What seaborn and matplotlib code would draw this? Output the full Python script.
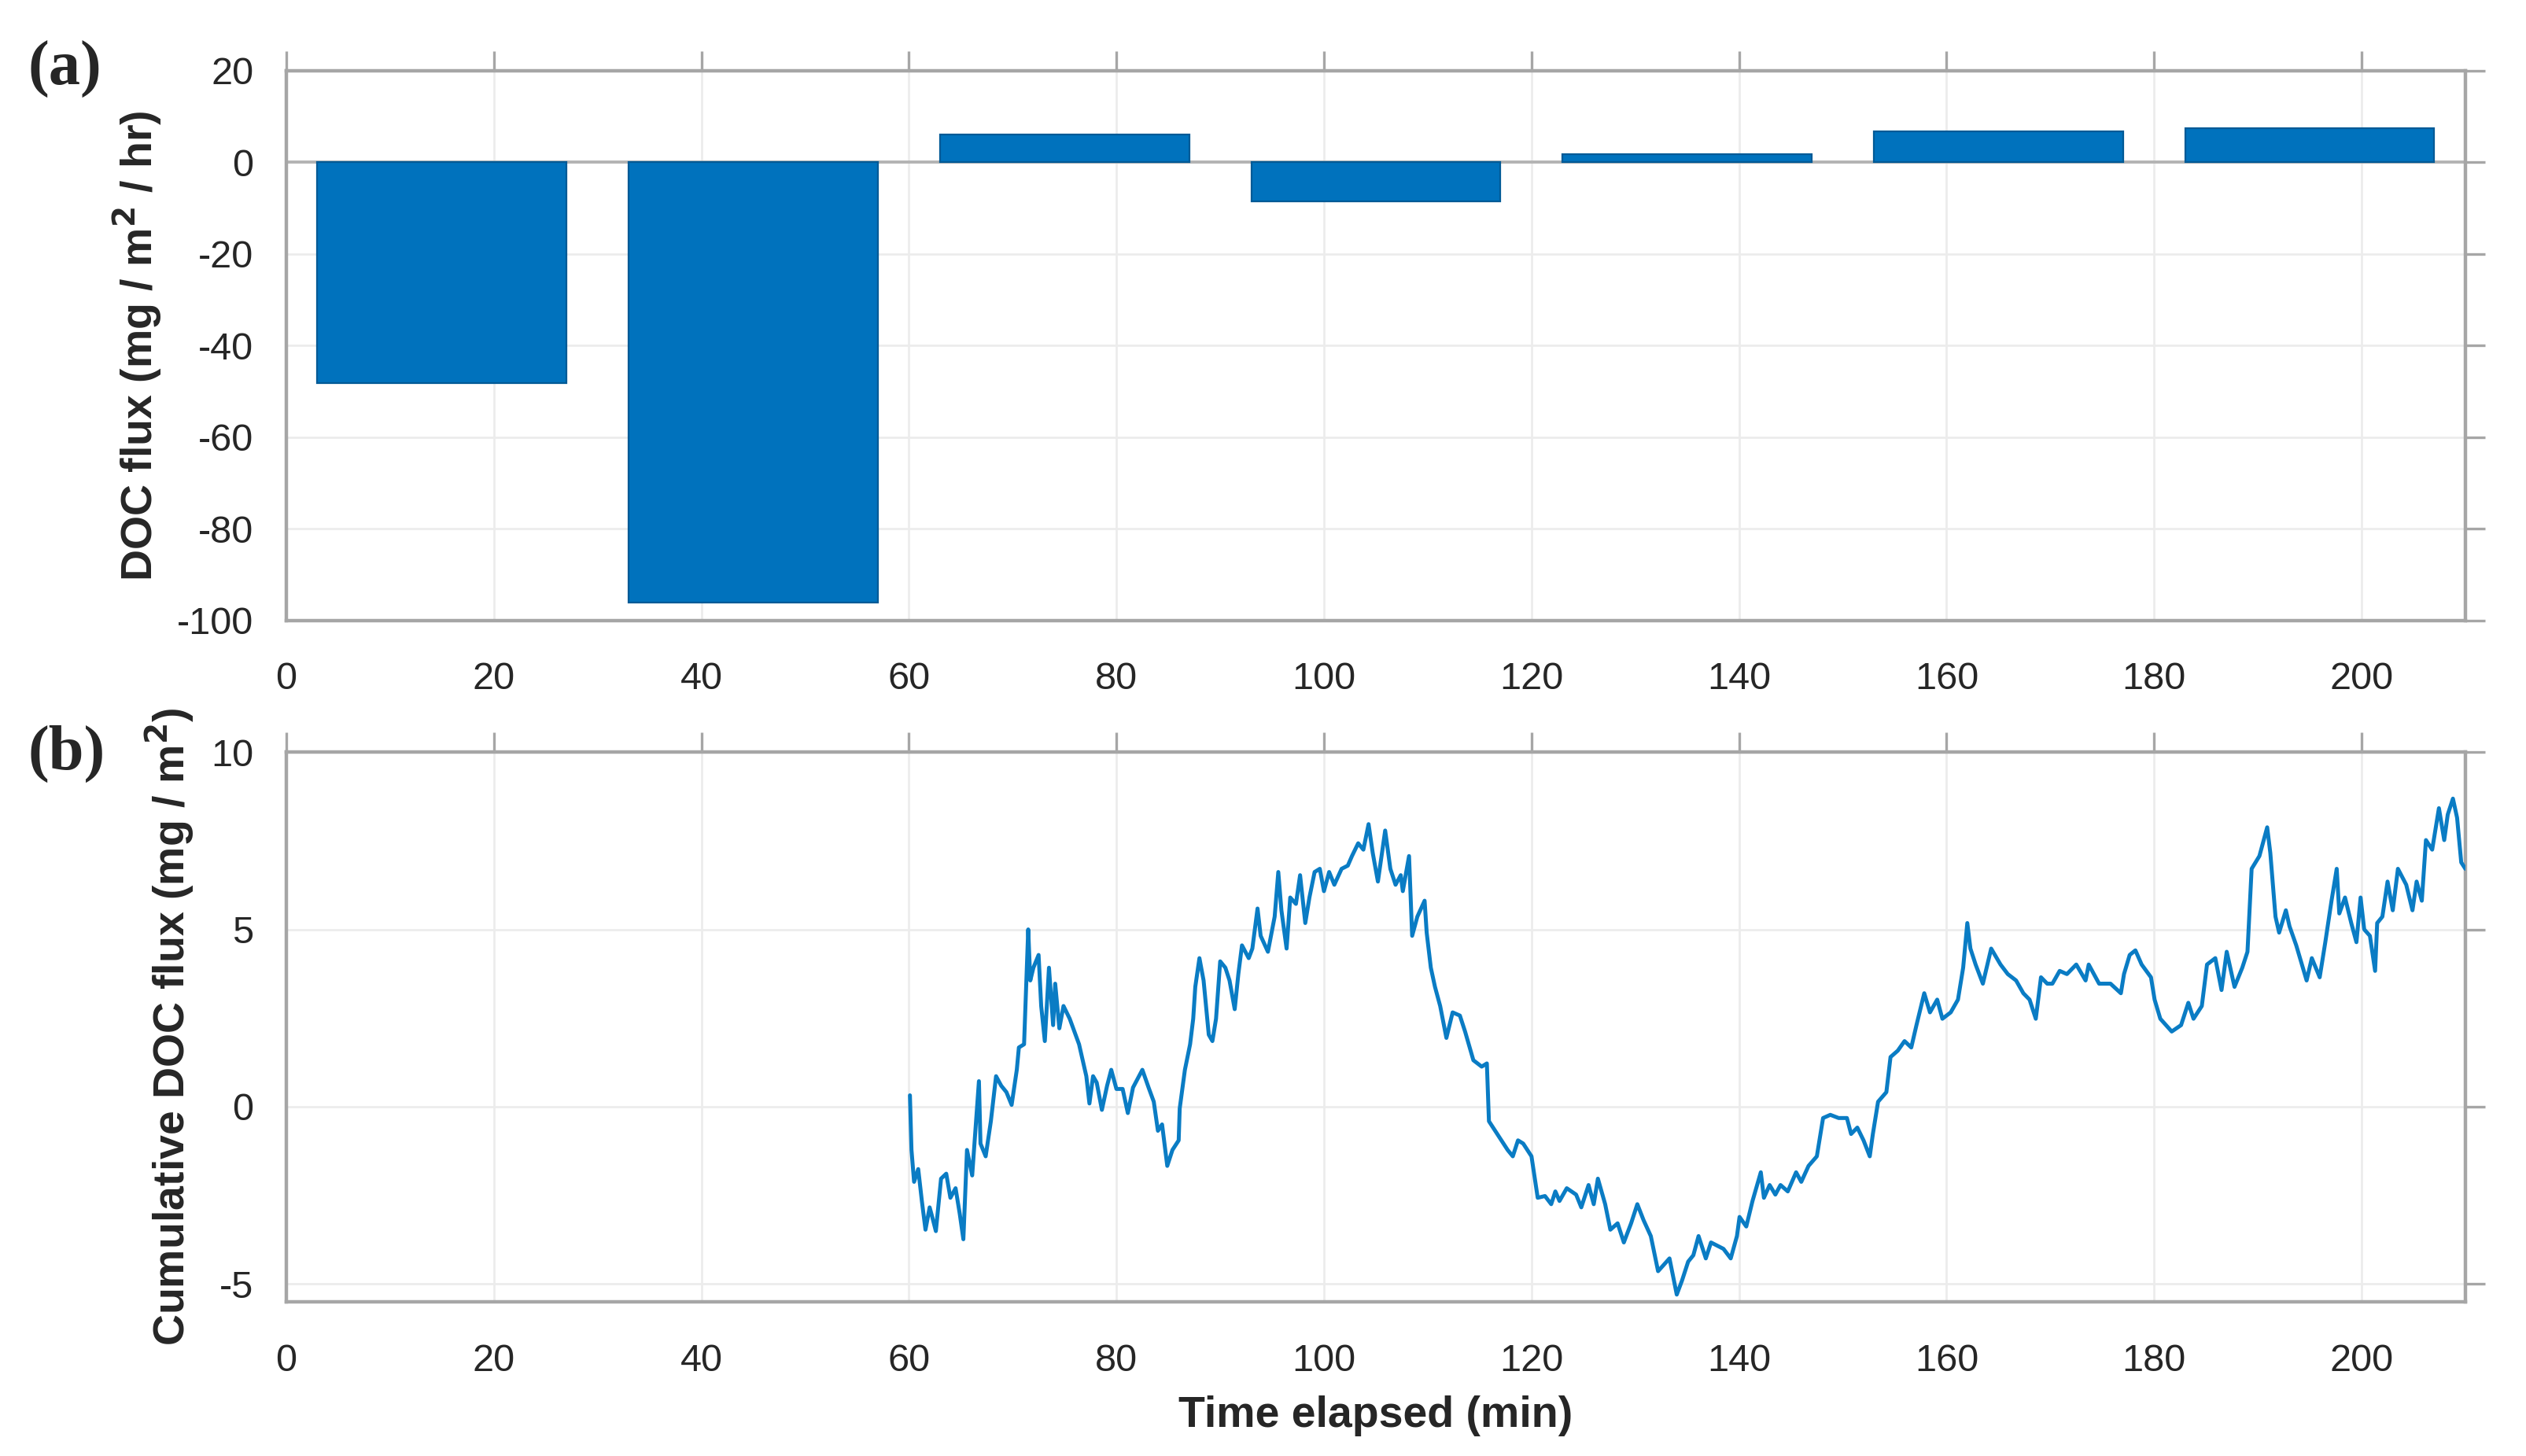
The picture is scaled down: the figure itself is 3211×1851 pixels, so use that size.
import pandas as pd
import matplotlib.pyplot as plt
import seaborn as sns

# (a) DOC flux per 30-min window
bar_mid = [15, 45, 75, 105, 135, 165, 195]
doc_flux = [-48.2, -96.1, 6.0, -8.5, 1.8, 6.7, 7.4]

# (b) cumulative DOC flux
time_min = [60.1, 60.25, 60.5, 60.9, 61.25, 61.6, 62.0, 62.25, 62.6, 63.1, 63.6, 64.0, 64.5,
            64.9, 65.25, 65.6, 66.1, 66.75, 66.9, 67.4, 67.9, 68.4, 68.9, 69.4, 69.9, 70.4,
            70.6, 71.1, 71.5, 71.7, 72.0, 72.5, 72.75, 73.1, 73.5, 73.9, 74.1, 74.5, 74.9,
            75.5, 76.4, 77.1, 77.4, 77.75, 78.1, 78.6, 79.1, 79.5, 80.0, 80.6, 81.1, 81.6,
            82.5, 83.1, 83.6, 84.0, 84.4, 84.9, 85.4, 86.0, 86.1, 86.6, 87.1, 87.4, 87.6,
            88.0, 88.4, 88.9, 89.25, 89.6, 90.0, 90.5, 90.9, 91.4, 91.75, 92.1, 92.75, 93.1,
            93.6, 93.9, 94.6, 95.25, 95.6, 95.9, 96.4, 96.75,
            97.3, 97.7, 98.2, 98.6, 99.1, 99.6, 100.0, 100.5, 101.0, 101.7, 102.3, 102.7,
            103.3, 103.8, 104.3, 104.7, 105.2, 105.9, 106.4, 106.9, 107.4, 107.6, 108.2,
            108.5, 109.0, 109.7, 109.9, 110.3, 110.7, 111.2, 111.8, 112.4, 113.1, 113.6,
            114.4, 115.2, 115.7, 115.9, 116.7, 117.7, 118.2, 118.7, 119.2, 120.0, 120.6,
            121.3, 121.9, 122.3, 122.7, 123.4, 124.3, 124.8, 125.5, 126.0, 126.4, 127.1,
            127.6, 128.3, 128.9, 129.6, 130.2, 130.8, 131.5, 132.2, 133.3, 134.0, 134.5,
            135.1, 135.6, 136.1, 136.8, 137.3, 137.9, 138.5, 139.2, 139.8, 140.05, 140.7,
            141.3, 142.1, 142.4, 142.95, 143.5, 144.0, 144.7, 145.5, 146.0, 146.7, 147.5,
            148.1, 148.8, 149.6, 150.4, 150.8, 151.4, 152.0, 152.6, 152.9, 153.4, 154.2,
            154.6, 155.3, 155.95, 156.6, 157.1, 157.85, 158.4, 159.1, 159.6, 160.4, 161.1,
            161.6, 162.0, 162.3, 162.8, 163.5, 164.3, 165.2, 165.9, 166.7, 167.4, 168.0,
            168.6, 169.1, 169.7, 170.2, 170.9, 171.6,
            172.5, 173.4, 173.7, 174.7, 175.8, 176.8, 177.1, 177.65, 178.2, 178.8, 179.7,
            180.05, 180.6, 181.7, 182.6, 183.3, 183.8, 184.6, 185.1, 185.9, 186.5, 187.0,
            187.75, 188.5, 189.0, 189.4, 190.15, 190.9, 191.2, 191.7, 192.05, 192.7, 193.05,
            193.7, 194.7, 195.2, 195.96, 196.5, 197.1, 197.6, 197.85, 198.4, 199.0, 199.5,
            199.9, 200.25, 200.8, 201.3, 201.5, 202.0, 202.5, 203.0, 203.5, 204.3, 204.9,
            205.3, 205.8, 206.2, 206.8, 207.45, 207.96, 208.3, 208.8, 209.2, 209.6, 210.0]
cum_flux = [0.32, -1.22, -2.12, -1.76, -2.66, -3.47, -2.84, -3.11, -3.51, -2.03, -1.89, -2.57, -2.30,
            -3.02, -3.74, -1.22, -1.94, 0.72, -1.04, -1.40, -0.41, 0.86, 0.59, 0.41, 0.05, 1.04,
            1.67, 1.76, 5.00, 3.56, 3.92, 4.28, 2.84, 1.85, 3.92, 2.30, 3.47, 2.21, 2.84,
            2.48, 1.76, 0.86, 0.09, 0.86, 0.68, -0.09, 0.59, 1.04, 0.50, 0.50, -0.18, 0.54,
            1.04, 0.54, 0.14, -0.68, -0.50, -1.67, -1.22, -0.95, -0.05, 1.04, 1.76, 2.48, 3.38,
            4.19, 3.56, 2.03, 1.85, 2.48, 4.10, 3.92, 3.56, 2.75, 3.74, 4.55, 4.19, 4.46,
            5.59, 4.82, 4.37, 5.36, 6.62, 5.54, 4.46, 5.90,
            5.72, 6.53, 5.18, 5.90, 6.62, 6.71, 6.08, 6.62, 6.26, 6.71, 6.80, 7.07,
            7.43, 7.25, 7.97, 7.16, 6.35, 7.79, 6.71, 6.26, 6.53, 6.08, 7.07,
            4.82, 5.36, 5.81, 4.91, 3.92, 3.38, 2.84, 1.94, 2.66, 2.57, 2.12,
            1.31, 1.13, 1.22, -0.41, -0.77, -1.22, -1.40, -0.95, -1.04, -1.40, -2.57,
            -2.52, -2.75, -2.39, -2.66, -2.30, -2.48, -2.84, -2.21, -2.75, -2.03, -2.75,
            -3.47, -3.29, -3.83, -3.29, -2.75, -3.20, -3.65, -4.64, -4.28, -5.30, -4.91,
            -4.37, -4.19, -3.65, -4.28, -3.83, -3.92, -4.01, -4.28, -3.65, -3.11, -3.38,
            -2.66, -1.85, -2.57, -2.21, -2.48, -2.21, -2.39, -1.85, -2.12, -1.67, -1.40,
            -0.32, -0.23, -0.32, -0.32, -0.77, -0.59, -0.95, -1.40, -0.77, 0.14, 0.41,
            1.40, 1.58, 1.85, 1.67, 2.30, 3.20, 2.66, 3.02, 2.48, 2.66, 3.02,
            3.92, 5.18, 4.46, 4.01, 3.47, 4.46, 4.01, 3.74, 3.56, 3.20, 3.02,
            2.48, 3.65, 3.47, 3.47, 3.83, 3.74,
            4.01, 3.56, 4.01, 3.47, 3.47, 3.20, 3.74, 4.28, 4.41, 4.01, 3.65,
            3.02, 2.48, 2.12, 2.30, 2.93, 2.48, 2.84, 4.01, 4.19, 3.29, 4.37,
            3.38, 3.92, 4.37, 6.71, 7.07, 7.88, 7.16, 5.36, 4.91, 5.54, 5.09,
            4.55, 3.56, 4.19, 3.65, 4.64, 5.81, 6.71, 5.45, 5.90, 5.18, 4.64,
            5.90, 5.00, 4.82, 3.83, 5.18, 5.36, 6.35, 5.54, 6.71, 6.26, 5.54,
            6.35, 5.81, 7.52, 7.25, 8.42, 7.52, 8.24, 8.69, 8.15, 6.89, 6.71]

x_ticks = list(range(0, 201, 20))
ya_ticks = [-100, -80, -60, -40, -20, 0, 20]
yb_ticks = [-5, 0, 5, 10]

sns.set_style('white')
plt.rcParams['font.family'] = ['Liberation Sans', 'DejaVu Sans']
plt.rcParams['axes.unicode_minus'] = False

bar_df = pd.DataFrame({'mid': bar_mid, 'flux': doc_flux})
line_df = pd.DataFrame({'t': time_min, 'cum': cum_flux})

blue = '#0072BD'
spine_c = '#a6a6a6'
grid_c = '#ececec'
tick_fs = 17.5
lab_fs = 20

fig = plt.figure(figsize=(16.06, 9.255), dpi=200)
ax1 = fig.add_axes([0.1133, 0.574, 0.8624, 0.3774])
ax2 = fig.add_axes([0.1133, 0.106, 0.8624, 0.3774])

sns.barplot(data=bar_df, x='mid', y='flux', native_scale=True, width=0.8,
            color=blue, saturation=1, edgecolor='#005a96', linewidth=0.8, ax=ax1, zorder=3)
ax1.axhline(0, color='#b3b3b3', lw=1.4, zorder=2)
ax1.set_ylim(-100, 20)
ax1.set_yticks(ya_ticks)
ax1.set_ylabel('DOC flux (mg / m$^\\mathbf{2}$ / hr)', fontsize=lab_fs, fontweight='bold')
ax1.yaxis.set_label_coords(-0.056, 0.5)
ax1.set_xlabel('')

sns.lineplot(data=line_df, x='t', y='cum', color='#0a7cc4', lw=1.8, ax=ax2, zorder=3)
ax2.set_ylim(-5.5, 10)
ax2.set_yticks(yb_ticks)
ax2.set_ylabel('Cumulative DOC flux (mg / m$^\\mathbf{2}$)', fontsize=lab_fs, fontweight='bold')
ax2.yaxis.set_label_coords(-0.041, 0.5)
ax2.set_xlabel('Time elapsed (min)', fontsize=lab_fs, fontweight='bold')
ax2.xaxis.set_label_coords(0.5, -0.17)

for ax in (ax1, ax2):
    ax.set_xlim(0, 210)
    ax.set_xticks(x_ticks)
    ax.set_xticklabels([str(v) for v in x_ticks])
    ax.grid(True, color=grid_c, lw=1.0, zorder=0)
    ax.set_axisbelow(True)
    for s in ax.spines.values():
        s.set_color(spine_c)
        s.set_linewidth(1.6)
    ax.tick_params(direction='out', length=9, width=1.2, color=spine_c,
                   labelsize=tick_fs, labelcolor='#262626',
                   top=True, right=True, labeltop=False, labelright=False)
    ax.tick_params(axis='x', pad=10)
    ax.tick_params(axis='y', pad=6)

fig.text(0.011, 0.952, '(a)', fontsize=29, fontweight='bold',
         family='Liberation Serif', va='center', ha='left')
fig.text(0.011, 0.482, '(b)', fontsize=29, fontweight='bold',
         family='Liberation Serif', va='center', ha='left')

fig.savefig('out.png', dpi=200)
